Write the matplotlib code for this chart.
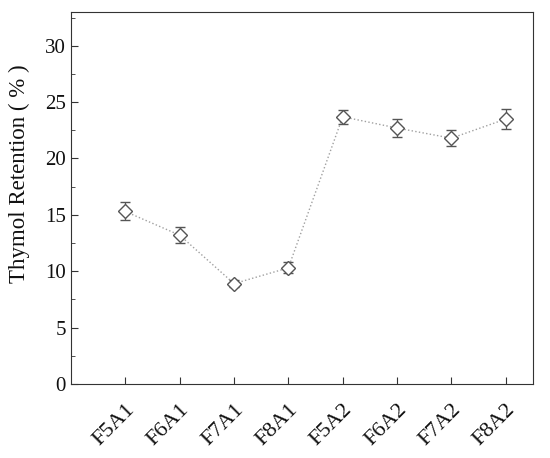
import matplotlib
matplotlib.use("Agg")
import matplotlib.pyplot as plt
from matplotlib.ticker import MultipleLocator

# Thymol retention per formulation
samples = ["F5A1", "F6A1", "F7A1", "F8A1", "F5A2", "F6A2", "F7A2", "F8A2"]
retention = [15.3, 13.2, 8.9, 10.3, 23.7, 22.7, 21.8, 23.5]
retention_err = [0.8, 0.7, 0.3, 0.5, 0.6, 0.8, 0.7, 0.9]

plt.rcParams['font.family'] = ['Liberation Serif', 'DejaVu Serif']

fig = plt.figure(figsize=(5.5, 4.58), dpi=100)
ax = fig.add_axes([0.129, 0.1616, 0.84, 0.8124])

x = list(range(len(samples)))
ax.plot(x, retention, linestyle=':', color='#a0a0a0', linewidth=1.0, zorder=1)
ax.errorbar(x, retention, yerr=retention_err, fmt='D', markersize=7.5,
            markerfacecolor='white', markeredgecolor='#555555', markeredgewidth=1.0,
            ecolor='#555555', elinewidth=0.9, capsize=3.5, capthick=0.9, zorder=2)

ax.set_xlim(-1, 7.5)
ax.set_ylim(0, 33)
ax.set_xticks(x)
ax.set_xticklabels(samples, rotation=45, ha='right', rotation_mode='anchor', fontsize=16)
ax.yaxis.set_major_locator(MultipleLocator(5))
ax.yaxis.set_minor_locator(MultipleLocator(2.5))
ax.tick_params(axis='both', which='both', direction='in', colors='#333333', labelcolor='#111111')
ax.tick_params(axis='y', labelsize=15)
ax.tick_params(axis='both', which='major', length=5)
ax.tick_params(axis='y', which='minor', length=3)
ax.tick_params(axis='x', pad=12)
ax.set_ylabel('Thymol Retention ( % )', fontsize=16.5, color='#111111')
ax.yaxis.set_label_coords(-0.088, 0.565)
for s in ax.spines.values():
    s.set_color('#333333')

fig.savefig('out.png', dpi=100)
